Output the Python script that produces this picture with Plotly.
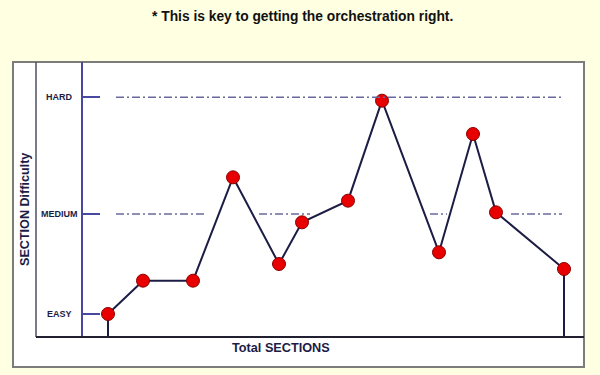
import plotly.graph_objects as go

# ---- data ----
section_pos = [2.5, 6.0, 11.0, 15.0, 19.6, 21.9, 26.5, 29.9, 35.6, 39.0, 41.3, 48.1]
difficulty = [0.0, 2.0, 2.0, 8.2, 3.0, 5.5, 6.8, 12.8, 3.7, 10.8, 6.1, 2.7]
level_labels = ["EASY", "MEDIUM", "HARD"]
level_values = [0, 6, 13]

title_text = "* This is key to getting the orchestration right."
y_title = "SECTION Difficulty"
x_title = "Total SECTIONS"

# ---- styling / decoration ----
X_RANGE = [0, 50.1]
Y_RANGE = [-1.38, 15.12]
BG = "#FFFFE1"
LINE_COL = "#1C1C45"
REF_COL = "#6A6AA0"
AXIS_BLUE = "#4848A0"
DASH = "8px,3px,2px,3px"
hard_segments = [(3.3, 47.9)]
medium_segments = [(3.3, 12.2), (17.6, 22.7), (34.7, 36.4), (42.8, 47.9)]

W, H = 600, 375
ML, MR, MT, MB = 83, 16, 62, 38
pw, ph = W - ML - MR, H - MT - MB


def px(xp):
    return (xp - ML) / pw


def py(yp):
    return (H - MB - yp) / ph


fig = go.Figure()

# drop lines at the first and last section
fig.add_trace(go.Scatter(x=[section_pos[0], section_pos[0]], y=[difficulty[0], Y_RANGE[0]],
                         mode="lines", line=dict(color=LINE_COL, width=2),
                         hoverinfo="skip", showlegend=False))
fig.add_trace(go.Scatter(x=[section_pos[-1], section_pos[-1]], y=[difficulty[-1], Y_RANGE[0]],
                         mode="lines", line=dict(color=LINE_COL, width=2),
                         hoverinfo="skip", showlegend=False))

fig.add_trace(go.Scatter(
    x=section_pos, y=difficulty, mode="lines+markers",
    line=dict(color=LINE_COL, width=2),
    marker=dict(size=13, color="#E80000", line=dict(color="#8A0000", width=1)),
    showlegend=False,
))

shapes = []
# outer white panel
shapes.append(dict(type="rect", xref="paper", yref="paper",
                   x0=px(13), x1=px(584), y0=py(367), y1=py(62),
                   fillcolor="white", line=dict(color="#7C7C7C", width=2), layer="below"))
# inner left frame line
shapes.append(dict(type="line", xref="paper", yref="paper",
                   x0=px(36), x1=px(36), y0=py(337), y1=py(62),
                   line=dict(color="#505060", width=1.5)))
# bottom line
shapes.append(dict(type="line", xref="paper", yref="paper",
                   x0=px(36), x1=px(584), y0=py(337), y1=py(337),
                   line=dict(color="#202030", width=2)))
# reference dash-dot lines
for x0, x1 in hard_segments:
    shapes.append(dict(type="line", xref="x", yref="y", x0=x0, x1=x1,
                       y0=level_values[2], y1=level_values[2],
                       line=dict(color=REF_COL, width=1.5, dash=DASH)))
for x0, x1 in medium_segments:
    shapes.append(dict(type="line", xref="x", yref="y", x0=x0, x1=x1,
                       y0=level_values[1], y1=level_values[1],
                       line=dict(color=REF_COL, width=1.5, dash=DASH)))

annotations = [
    dict(text="<b>" + title_text + "</b>", xref="paper", yref="paper",
         x=px(302), y=py(16), xanchor="center", yanchor="middle", showarrow=False,
         font=dict(family="Liberation Sans, Arial", size=13.8, color="#111111")),
    dict(text="<b>" + y_title + "</b>", xref="paper", yref="paper",
         x=px(25), y=py(210), xanchor="center", yanchor="middle", showarrow=False,
         textangle=-90, font=dict(family="Liberation Sans, Arial", size=12.6, color="#1C1C45")),
    dict(text="<b>" + x_title + "</b>", xref="paper", yref="paper",
         x=px(281), y=py(348), xanchor="center", yanchor="middle", showarrow=False,
         font=dict(family="Liberation Sans, Arial", size=12.7, color="#1C1C45")),
]
for lab, val in zip(level_labels, level_values):
    annotations.append(dict(text="<b>" + lab + "</b>", xref="paper", yref="y",
                            x=px(59), y=val, xanchor="center", yanchor="middle",
                            showarrow=False,
                            font=dict(family="Liberation Sans, Arial",
                                      size=9, color="#1C1C45")))

fig.update_layout(
    width=W, height=H,
    margin=dict(l=ML, r=MR, t=MT, b=MB, pad=0),
    paper_bgcolor=BG, plot_bgcolor="white",
    shapes=shapes, annotations=annotations,
    xaxis=dict(range=X_RANGE, showgrid=False, zeroline=False, showticklabels=False,
               ticks="", showline=False, fixedrange=True),
    yaxis=dict(range=Y_RANGE, showgrid=False, zeroline=False, showticklabels=False,
               tickmode="array", tickvals=level_values, ticks="inside", ticklen=17,
               tickwidth=1.5, tickcolor=AXIS_BLUE,
               showline=True, linecolor=AXIS_BLUE, linewidth=1.5, fixedrange=True),
)

fig.write_html(
    "out.html",
    config={"displayModeBar": False},
    post_script="document.body.style.margin='0';document.body.style.background='" + BG + "';",
)
